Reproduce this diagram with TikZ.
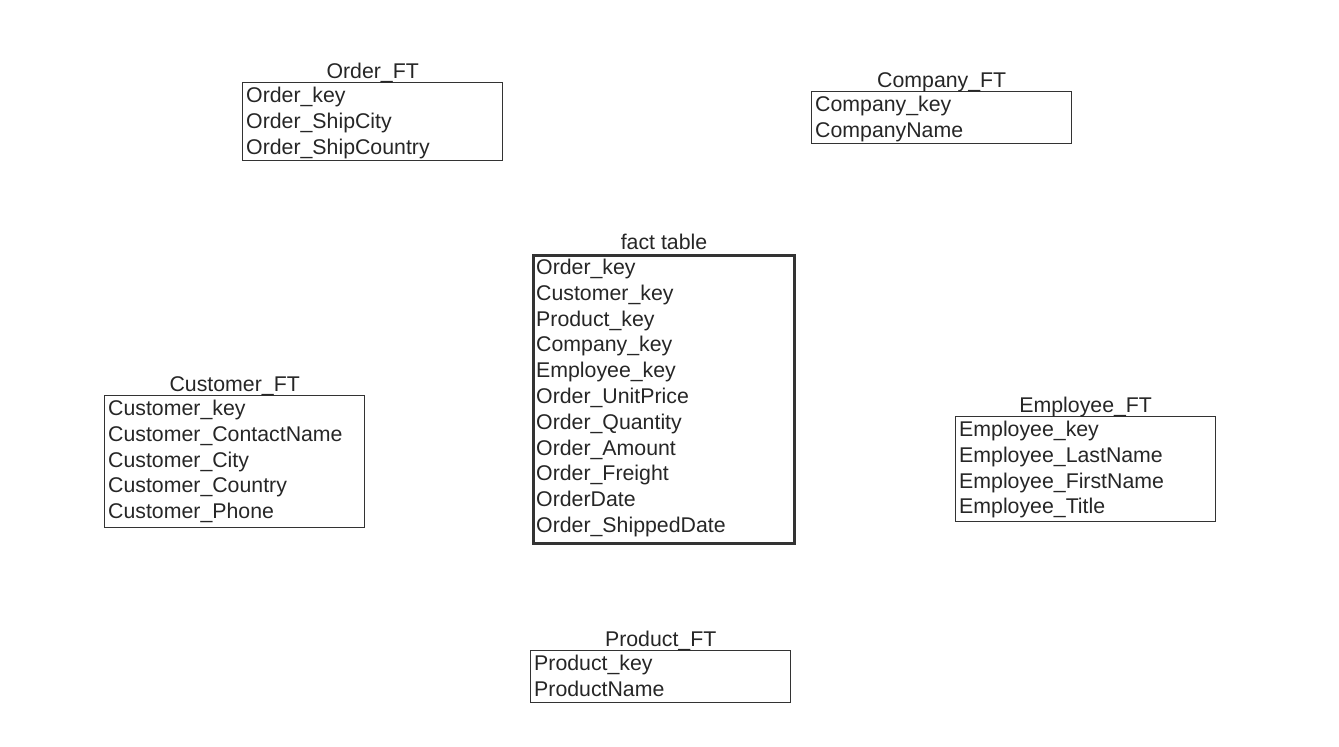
\documentclass[tikz,border=0pt]{standalone}
\usepackage{fontspec}
\setmainfont{Liberation Sans}
\begin{document}
\begin{tikzpicture}[x=1pt,y=-1pt,
  tbl/.style={draw=black!80, line width=1.4pt, minimum width=260pt, anchor=north west, inner sep=0pt},
  facttbl/.style={tbl, line width=3pt, minimum width=261pt},
  ttl/.style={anchor=base, inner sep=0pt, font=\fontsize{21.3}{25}\selectfont, text=black!85},
  rowtxt/.style={anchor=base west, inner sep=0pt, font=\fontsize{21.3}{25}\selectfont, text=black!85}]
\useasboundingbox (0,0) rectangle (1339,747);
% tables
\node[tbl, minimum height=78pt] (order) at (242,82) {};
\node[tbl, minimum height=52pt] (company) at (811,91) {};
\node[facttbl, minimum height=288pt] (fact) at (532,254) {};
\node[tbl, minimum height=132pt] (customer) at (104,395) {};
\node[tbl, minimum height=105pt] (employee) at (955,416) {};
\node[tbl, minimum height=52pt] (product) at (530,650) {};
% titles
\node[ttl] (order-t) at ([yshift=4pt]order.north) {Order\_FT};
\node[ttl] (company-t) at ([yshift=4pt]company.north) {Company\_FT};
\node[ttl] (fact-t) at ([yshift=5pt]fact.north) {fact table};
\node[ttl] (customer-t) at ([yshift=4pt]customer.north) {Customer\_FT};
\node[ttl] (employee-t) at ([yshift=4pt]employee.north) {Employee\_FT};
\node[ttl] (product-t) at ([yshift=4pt]product.north) {Product\_FT};
% rows
\foreach \t [count=\i from 0] in {Order\_key, Order\_ShipCity, Order\_ShipCountry}
  \node[rowtxt] (order-r\i) at ([xshift=4pt, yshift={-20.5pt-\i*25.8pt}]order.north west) {\t};
\foreach \t [count=\i from 0] in {Company\_key, CompanyName}
  \node[rowtxt] (company-r\i) at ([xshift=4pt, yshift={-20.5pt-\i*25.8pt}]company.north west) {\t};
\foreach \t [count=\i from 0] in {Order\_key, Customer\_key, Product\_key, Company\_key, Employee\_key, Order\_UnitPrice, Order\_Quantity, Order\_Amount, Order\_Freight, OrderDate, Order\_ShippedDate}
  \node[rowtxt] (fact-r\i) at ([xshift=4pt, yshift={-20.5pt-\i*25.8pt}]fact.north west) {\t};
\foreach \t [count=\i from 0] in {Customer\_key, Customer\_ContactName, Customer\_City, Customer\_Country, Customer\_Phone}
  \node[rowtxt] (customer-r\i) at ([xshift=4pt, yshift={-20.5pt-\i*25.8pt}]customer.north west) {\t};
\foreach \t [count=\i from 0] in {Employee\_key, Employee\_LastName, Employee\_FirstName, Employee\_Title}
  \node[rowtxt] (employee-r\i) at ([xshift=4pt, yshift={-20.5pt-\i*25.8pt}]employee.north west) {\t};
\foreach \t [count=\i from 0] in {Product\_key, ProductName}
  \node[rowtxt] (product-r\i) at ([xshift=4pt, yshift={-20.5pt-\i*25.8pt}]product.north west) {\t};
\end{tikzpicture}
\end{document}
